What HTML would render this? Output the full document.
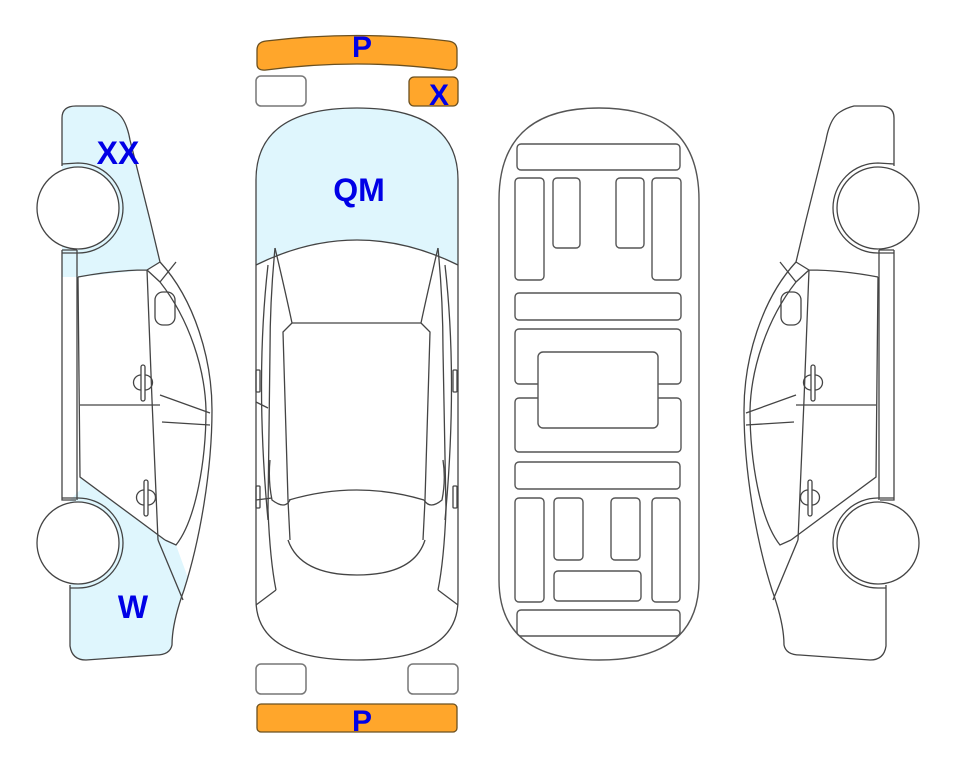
<!DOCTYPE html>
<html><head><meta charset="utf-8"><style>
html,body{margin:0;padding:0;background:#fff;}
svg{display:block;}
text{font-family:"Liberation Sans",Arial,sans-serif;font-weight:bold;fill:#0000e6;}
</style></head><body>
<svg width="963" height="768" viewBox="0 0 963 768" xmlns="http://www.w3.org/2000/svg">
<defs>
<g id="side" fill="none" stroke="#444" stroke-width="1.3">
  <path d="M62,118 Q62,106 76,106 L102,106 Q110,108 116,112 Q126,118 130,140 L150,220 L160,262 C195,300 212,360 212,410 C212,470 200,540 184,590 C176,612 172,630 172,645 Q170,655 156,655 L86,660 Q72,660 70,646 L70,585 M62,118 L62,166 M62,250 L62,500 L76,500 M62,250 L77,250"/>
  <path d="M77,250 L77,500"/>
  <path d="M78,277 Q115,270 147,270 L160,262 M147,270 L160,282 C190,320 205,370 206,410 C206,460 196,520 176,545 L165,540"/>
  <path d="M147,270 L152,400 L158,540"/>
  <path d="M78,277 L80,477 L165,540"/>
  <path d="M80,405 L160,405"/>
  <path d="M160,395 L210,413 M162,422 L210,425"/>
  <path d="M158,540 L183,600"/>
  <path d="M160,282 L176,262"/>
  <rect x="155" y="292" width="20" height="33" rx="8"/>
  <rect x="141" y="365" width="4" height="36" rx="2"/>
  <path d="M141,375 A6,6 0 0,0 141,390 M145,375 A6,6 0 0,1 145,390"/>
  <rect x="144" y="480" width="4" height="36" rx="2"/>
  <path d="M144,490 A6,6 0 0,0 144,505 M148,490 A6,6 0 0,1 148,505"/>
  <path d="M62,164 L78,163 A45,45 0 0,1 78,253 L62,253"/>
  <circle cx="78" cy="208" r="41" fill="#fff"/>
  <path d="M62,498 L78,498 A45,45 0 0,1 78,588 L70,588"/>
  <circle cx="78" cy="543" r="41" fill="#fff"/>
</g>
</defs>

<path d="M62,118 Q62,106 76,106 L102,106 Q110,108 116,112 Q126,118 130,140 L150,220 L160,262 L147,270 L78,277 L62,277 Z" fill="#dff6fd"/>
<path d="M80,477 L165,540 L176,545 L188,578 C178,605 172,630 172,645 Q170,655 156,655 L86,660 Q72,660 70,646 L70,500 L80,490 Z" fill="#dff6fd"/>
<use href="#side"/>
<use href="#side" transform="translate(956,0) scale(-1,1)"/>
<text x="118" y="164" font-size="32" text-anchor="middle">XX</text>
<text x="133" y="618" font-size="32" text-anchor="middle">W</text>

<path d="M256,265 L256,180 Q256,108 357,108 Q458,108 458,180 L458,265 Q357,215 256,265 Z" fill="#dff6fd"/>
<g fill="none" stroke="#444" stroke-width="1.3">
  <path d="M256,265 L256,180 Q256,108 357,108 Q458,108 458,180 L458,600 Q458,660 357,660 Q256,660 256,600 Z"/>
  <path d="M256,265 Q357,215 458,265"/>
  <path d="M275,248 Q270,300 270,350 L268,510 Q270,560 276,590 M438,248 Q443,300 443,350 L446,510 Q444,560 438,590"/>
  <path d="M275,248 Q285,290 292,323 L283,332 L288,500 L290,540 M438,248 Q428,290 421,323 L430,332 L425,500 L423,540"/>
  <path d="M292,323 L421,323"/>
  <path d="M289,500 Q357,480 424,500"/>
  <path d="M288,540 Q300,575 357,575 Q414,575 425,540"/>
  <path d="M268,520 Q255,380 268,265 M445,520 Q458,380 445,265"/>
  <path d="M256,605 L276,590 M458,605 L438,590"/>
  <path d="M270,460 Q268,480 272,500 Q285,510 290,500 M443,460 Q446,480 442,500 Q430,510 424,500"/>
  <rect x="256" y="370" width="4" height="22" rx="1"/>
  <rect x="256" y="486" width="4" height="22" rx="1"/>
  <rect x="453" y="370" width="4" height="22" rx="1"/>
  <rect x="453" y="486" width="4" height="22" rx="1"/>
  <path d="M256,402 L268,408 M256,500 L272,498"/>
</g>
<text x="359" y="201" font-size="32" text-anchor="middle">QM</text>

<path d="M257,50 Q257,42 266,41 Q357,30 448,41 Q457,42 457,50 L457,64 Q457,71 448,70 Q357,58 266,70 Q257,71 257,64 Z" fill="#ffa62b" stroke="#6b5020" stroke-width="1.3"/>
<text x="362" y="57" font-size="30" text-anchor="middle">P</text>
<rect x="256" y="76" width="50" height="30" rx="5" fill="#fff" stroke="#777" stroke-width="1.5"/>
<rect x="409" y="77" width="49" height="29" rx="5" fill="#ffa62b" stroke="#6b5020" stroke-width="1.3"/>
<text x="439" y="105" font-size="30" text-anchor="middle">X</text>
<rect x="256" y="664" width="50" height="30" rx="5" fill="#fff" stroke="#777" stroke-width="1.5"/>
<rect x="408" y="664" width="50" height="30" rx="5" fill="#fff" stroke="#777" stroke-width="1.5"/>
<rect x="257" y="704" width="200" height="28" rx="4" fill="#ffa62b" stroke="#6b5020" stroke-width="1.3"/>
<text x="362" y="731" font-size="30" text-anchor="middle">P</text>

<g fill="none" stroke="#555" stroke-width="1.4">
  <path d="M499,200 Q499,108 599,108 Q699,108 699,200 L699,580 Q699,660 599,660 Q499,660 499,580 Z"/>
  <rect x="517" y="144" width="163" height="26" rx="4"/>
  <rect x="515" y="178" width="29" height="102" rx="4"/>
  <rect x="553" y="178" width="27" height="70" rx="4"/>
  <rect x="616" y="178" width="28" height="70" rx="4"/>
  <rect x="652" y="178" width="29" height="102" rx="4"/>
  <rect x="515" y="293" width="166" height="27" rx="4"/>
  <rect x="515" y="329" width="166" height="55" rx="4"/>
  <rect x="515" y="398" width="166" height="54" rx="4"/>
  <rect x="538" y="352" width="120" height="76" rx="5" fill="#fff"/>
  <rect x="515" y="462" width="165" height="27" rx="4"/>
  <rect x="515" y="498" width="29" height="104" rx="4"/>
  <rect x="554" y="498" width="29" height="62" rx="4"/>
  <rect x="611" y="498" width="29" height="62" rx="4"/>
  <rect x="652" y="498" width="28" height="104" rx="4"/>
  <rect x="554" y="571" width="87" height="30" rx="4"/>
  <rect x="517" y="610" width="163" height="26" rx="4"/>
</g>
</svg>
</body></html>
